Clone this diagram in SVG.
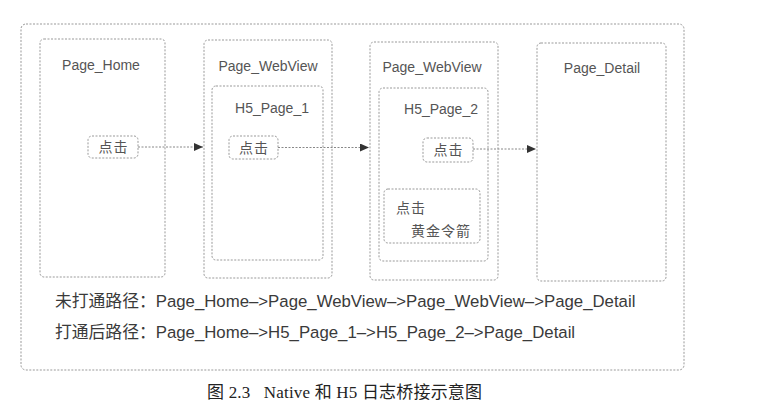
<svg xmlns="http://www.w3.org/2000/svg" width="772" height="417" viewBox="0 0 772 417">
<style>
.box{fill:none;stroke:#999;stroke-width:1;stroke-dasharray:2 1.5}
.lbl{font-family:"Liberation Sans","Noto Sans CJK SC",sans-serif;font-size:14px;fill:#555;text-anchor:middle}
.cjk{font-family:"Noto Sans CJK SC",sans-serif;font-size:14px;fill:#555;letter-spacing:1px}
.path{font-family:"Liberation Sans","Noto Sans CJK SC",sans-serif;font-size:16.8px;fill:#3a3a3a}
.cap{font-family:"Liberation Serif","Noto Sans CJK SC",serif;font-size:17px;fill:#222}
.con{fill:none;stroke:#888;stroke-width:1;stroke-dasharray:2 1.5}
</style>
<defs>
<marker id="arr" markerWidth="10" markerHeight="8" refX="9" refY="4" orient="auto" markerUnits="userSpaceOnUse">
<path d="M0,0 L9,4 L0,8 Z" fill="#333"/>
</marker>
</defs>
<rect width="772" height="417" fill="#fff"/>
<g id="frame"><rect class="box" x="21" y="24" width="663" height="346" rx="5"/></g>
<g id="page_home">
<rect class="box" x="40" y="39" width="125" height="238" rx="4"/>
<text class="lbl" x="101" y="70">Page_Home</text>
</g>
<g id="click1">
<rect class="box" x="88" y="136" width="50" height="22" rx="4"/>
<text class="cjk" x="113.5" y="152" text-anchor="middle">点击</text>
</g>
<g id="page_webview_1">
<rect class="box" x="204" y="40" width="128" height="238" rx="4"/>
<text class="lbl" x="268" y="71">Page_WebView</text>
</g>
<g id="h5_page_1">
<rect class="box" x="212" y="86" width="111" height="174" rx="4"/>
<text class="lbl" x="272" y="113">H5_Page_1</text>
</g>
<g id="click2">
<rect class="box" x="229" y="136" width="49" height="23" rx="4"/>
<text class="cjk" x="254" y="152.5" text-anchor="middle">点击</text>
</g>
<g id="page_webview_2">
<rect class="box" x="370" y="42" width="128" height="238" rx="4"/>
<text class="lbl" x="432" y="72">Page_WebView</text>
</g>
<g id="h5_page_2">
<rect class="box" x="379" y="88" width="109" height="173" rx="4"/>
<text class="lbl" x="441" y="114">H5_Page_2</text>
</g>
<g id="click3">
<rect class="box" x="423" y="138" width="50" height="24" rx="4"/>
<text class="cjk" x="448.5" y="155" text-anchor="middle">点击</text>
</g>
<g id="golden_arrow">
<rect class="box" x="384" y="189" width="96" height="54" rx="4"/>
<text class="cjk" x="396" y="213">点击</text>
<text class="cjk" x="471" y="236" text-anchor="end">黄金令箭</text>
</g>
<g id="page_detail">
<rect class="box" x="537" y="43" width="129" height="238" rx="4"/>
<text class="lbl" x="602" y="73">Page_Detail</text>
</g>
<g id="connectors">
<line class="con" x1="138" y1="147" x2="203" y2="147" marker-end="url(#arr)"/>
<line class="con" x1="278" y1="147.5" x2="369" y2="147.5" marker-end="url(#arr)"/>
<line class="con" x1="473" y1="149" x2="536" y2="149" marker-end="url(#arr)"/>
</g>
<g id="paths">
<text class="path" x="55" y="307">未打通路径：Page_Home–&gt;Page_WebView–&gt;Page_WebView–&gt;Page_Detail</text>
<text class="path" x="55" y="338">打通后路径：Page_Home–&gt;H5_Page_1–&gt;H5_Page_2–&gt;Page_Detail</text>
</g>
<text class="cap" x="207" y="398" xml:space="preserve" textLength="275" lengthAdjust="spacing">图 2.3   Native 和 H5 日志桥接示意图</text>
</svg>
